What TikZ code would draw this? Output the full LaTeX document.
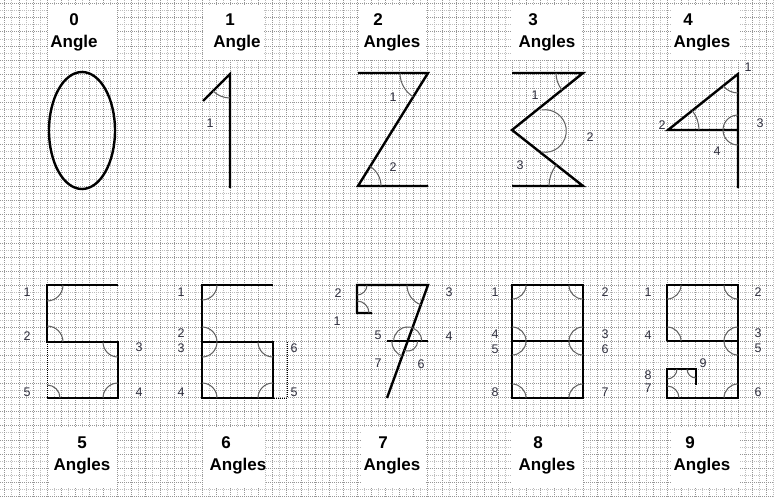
\documentclass[tikz,border=0pt]{standalone}
\usepackage{fontspec}
\setmainfont{Liberation Sans}
\usetikzlibrary{positioning}
\definecolor{gridmajor}{RGB}{150,150,150}
\definecolor{gridminor}{RGB}{190,190,190}
\definecolor{arcgray}{RGB}{95,95,95}
\definecolor{lblgray}{RGB}{45,45,60}
\tikzset{
  digitline/.style={line width=2.4pt, line join=miter},
  angarc/.style={arcgray, line width=1pt},
  construct/.style={line width=0.8pt, dash pattern=on 1pt off 1pt},
  lbl/.style={text=lblgray, font=\fontsize{12.5}{13}\selectfont, inner sep=0pt},
  titletext/.style={font=\bfseries\fontsize{17}{18}\selectfont, inner sep=0pt}
}
% angle mark: vertex, start angle, end angle, radius
\newcommand{\angarc}[4]{\draw[angarc] (#1) ++(#2:#4) arc[start angle=#2, end angle=#3, radius=#4];}

\begin{document}
\begin{tikzpicture}[x=1pt, y=1pt]
  \useasboundingbox (0,0) rectangle (774,-498);
  \fill[white] (0,0) rectangle (774,-498);
  % graph paper
  \foreach \i in {0,...,109}
    \draw[gridminor, line width=0.6pt, dash pattern=on 1pt off 1pt] ({4.7+\i*7.05},0) -- ({4.7+\i*7.05},-498);
  \foreach \j in {0,...,70}
    \draw[gridminor, line width=0.6pt, dash pattern=on 1pt off 1pt] (0,{-3.65-\j*7.035}) -- (774,{-3.65-\j*7.035});
  \foreach \i in {0,...,54}
    \draw[gridmajor, line width=0.6pt, dash pattern=on 1pt off 1pt] ({4.7+\i*14.1},0) -- ({4.7+\i*14.1},-498);
  \foreach \j in {0,...,35}
    \draw[gridmajor, line width=0.6pt, dash pattern=on 1pt off 1pt] (0,{-3.65-\j*14.07}) -- (774,{-3.65-\j*14.07});

  % title boxes
  \foreach \xa/\xb in {48/117, 203/264, 360/425, 511/582, 672/740}
    \fill[white] (\xa,-5) rectangle (\xb,-59);
  \foreach \xa/\xb in {49/117, 203/265, 362/425, 511/583, 672/740}
    \fill[white] (\xa,-428) rectangle (\xb,-487);

  % titles, top row
  \node[titletext] (n0) at (74,-20) {0};
  \node[titletext] (w0) at (74,-43) {Angle};
  \node[titletext] (n1) at (230,-20) {1};
  \node[titletext] (w1) at (237,-43) {Angle};
  \node[titletext] (n2) at (378,-20) {2};
  \node[titletext] (w2) at (392,-43) {Angles};
  \node[titletext] (n3) at (533,-20) {3};
  \node[titletext] (w3) at (547,-43) {Angles};
  \node[titletext] (n4) at (688,-20) {4};
  \node[titletext] (w4) at (702,-43) {Angles};
  % titles, bottom row
  \node[titletext] (n5) at (82,-443) {5};
  \node[titletext] (w5) at (82,-466) {Angles};
  \node[titletext] (n6) at (226,-443) {6};
  \node[titletext] (w6) at (238,-466) {Angles};
  \node[titletext] (n7) at (383,-443) {7};
  \node[titletext] (w7) at (392,-466) {Angles};
  \node[titletext] (n8) at (538,-443) {8};
  \node[titletext] (w8) at (547,-466) {Angles};
  \node[titletext] (n9) at (690,-443) {9};
  \node[titletext] (w9) at (702,-466) {Angles};

  % digit 0
  \draw[digitline] (82,-130.5) ellipse [x radius=33pt, y radius=58.5pt];

  % digit 1
  \coordinate (d1t) at (230,-74);
  \coordinate (d1b) at (230,-188);
  \coordinate (d1s) at (203,-101);
  \draw[digitline] (d1s) -- (d1t) -- (d1b);
  \angarc{d1t}{225}{270}{24pt}
  \node[lbl] (l1-1) at (210,-123) {1};

  % digit 2
  \coordinate (d2a) at (358,-73);
  \coordinate (d2b) at (428,-73);
  \coordinate (d2c) at (358,-186);
  \coordinate (d2d) at (428,-186);
  \draw[digitline] (d2a) -- (d2b) -- (d2c) -- (d2d);
  \angarc{d2b}{180}{238.2}{28pt}
  \angarc{d2c}{0}{58.2}{23pt}
  \node[lbl] (l2-1) at (393,-97) {1};
  \node[lbl] (l2-2) at (393,-167) {2};

  % digit 3
  \coordinate (d3a) at (512,-73);
  \coordinate (d3b) at (583,-73);
  \coordinate (d3c) at (512,-130);
  \coordinate (d3d) at (583,-186);
  \coordinate (d3e) at (512,-186);
  \coordinate (d3o) at (545,-131);
  \draw[digitline] (d3a) -- (d3b) -- (d3c) -- (d3d) -- (d3e);
  \angarc{d3b}{180}{218.8}{27pt}
  \angarc{d3o}{99}{-99}{21.3pt}
  \angarc{d3d}{141.3}{180}{34pt}
  \node[lbl] (l3-1) at (535,-95) {1};
  \node[lbl] (l3-2) at (590,-137) {2};
  \node[lbl] (l3-3) at (520,-165) {3};

  % digit 4
  \coordinate (d4t) at (738,-74);
  \coordinate (d4b) at (738,-188);
  \coordinate (d4l) at (668,-130);
  \coordinate (d4m) at (738,-130);
  \draw[digitline] (d4b) -- (d4t) -- (d4l) -- (d4m);
  \angarc{d4t}{218.7}{270}{19pt}
  \angarc{d4l}{0}{38.7}{31pt}
  \angarc{d4m}{90}{270}{15pt}
  \node[lbl] (l4-1) at (748,-67) {1};
  \node[lbl] (l4-2) at (662,-125) {2};
  \node[lbl] (l4-3) at (760,-123) {3};
  \node[lbl] (l4-4) at (717,-151) {4};

  % digit 5
  \coordinate (d5a) at (47,-285);
  \coordinate (d5b) at (118,-285);
  \coordinate (d5c) at (47,-342);
  \coordinate (d5d) at (118,-342);
  \coordinate (d5e) at (118,-398);
  \coordinate (d5f) at (47,-398);
  \draw[construct] (d5c) -- (d5f);
  \draw[digitline] (d5b) -- (d5a) -- (d5c) -- (d5d) -- (d5e) -- (d5f);
  \angarc{d5a}{270}{360}{16pt}
  \angarc{d5c}{0}{90}{16pt}
  \angarc{d5d}{180}{270}{15pt}
  \angarc{d5e}{90}{180}{15pt}
  \angarc{d5f}{0}{90}{13pt}
  \foreach \n/\x/\y in {1/27/292, 2/27/336, 3/139/347, 4/139/392, 5/27/392}
    \node[lbl] (l5-\n) at (\x,-\y) {\n};

  % digit 6
  \coordinate (d6a) at (202,-285);
  \coordinate (d6b) at (273,-285);
  \coordinate (d6c) at (202,-342);
  \coordinate (d6d) at (273,-342);
  \coordinate (d6e) at (273,-398);
  \coordinate (d6f) at (202,-398);
  \coordinate (d6g) at (287,-342);
  \coordinate (d6h) at (287,-398);
  \draw[construct] (d6g) -- (d6h) -- (d6e);
  \draw[digitline] (d6b) -- (d6a) -- (d6f) -- (d6e) -- (d6d) -- (d6c);
  \angarc{d6a}{270}{360}{15pt}
  \angarc{d6c}{0}{90}{15pt}
  \angarc{d6c}{270}{360}{15pt}
  \angarc{d6f}{0}{90}{15pt}
  \angarc{d6e}{90}{180}{15pt}
  \angarc{d6d}{180}{270}{15pt}
  \foreach \n/\x/\y in {1/181/292, 2/181/333, 3/181/348, 4/181/392, 5/294/392, 6/294/348}
    \node[lbl] (l6-\n) at (\x,-\y) {\n};

  % digit 7
  \coordinate (d7a) at (357,-285);
  \coordinate (d7b) at (428,-285);
  \coordinate (d7c) at (357,-313);
  \coordinate (d7d) at (372,-313);
  \coordinate (d7e) at (387,-398);
  \coordinate (d7f) at (387,-341);
  \coordinate (d7g) at (428,-341);
  \coordinate (d7x) at (407.7,-341);
  \draw[digitline] (d7d) -- (d7c) -- (d7a) -- (d7b) -- (d7e);
  \draw[digitline] (d7f) -- (d7g);
  \angarc{d7a}{270}{360}{10pt}
  \angarc{d7c}{0}{90}{12pt}
  \angarc{d7b}{180}{250}{21pt}
  \angarc{d7x}{0}{180}{14pt}
  \angarc{d7x}{180}{250}{16pt}
  \angarc{d7x}{250}{360}{10pt}
  \foreach \n/\x/\y in {2/338/293, 1/337/321, 3/449/292, 4/449/336, 5/378/335, 6/421/364, 7/378/363}
    \node[lbl] (l7-\n) at (\x,-\y) {\n};

  % digit 8
  \coordinate (d8a) at (512,-285);
  \coordinate (d8b) at (583,-285);
  \coordinate (d8c) at (512,-341);
  \coordinate (d8d) at (583,-341);
  \coordinate (d8e) at (512,-398);
  \coordinate (d8f) at (583,-398);
  \draw[digitline] (d8a) -- (d8b) -- (d8f) -- (d8e) -- cycle;
  \draw[digitline] (d8c) -- (d8d);
  \angarc{d8a}{270}{360}{14pt}
  \angarc{d8b}{180}{270}{14pt}
  \angarc{d8d}{90}{180}{14pt}
  \angarc{d8c}{0}{90}{14pt}
  \angarc{d8c}{270}{360}{14pt}
  \angarc{d8d}{180}{270}{14pt}
  \angarc{d8f}{90}{180}{14pt}
  \angarc{d8e}{0}{90}{14pt}
  \foreach \n/\x/\y in {1/495/292, 4/495/334, 5/495/349, 8/495/392, 2/605/292, 3/605/334, 6/605/349, 7/605/392}
    \node[lbl] (l8-\n) at (\x,-\y) {\n};

  % digit 9
  \coordinate (d9a) at (667,-285);
  \coordinate (d9b) at (738,-285);
  \coordinate (d9c) at (667,-341);
  \coordinate (d9d) at (738,-341);
  \coordinate (d9e) at (738,-398);
  \coordinate (d9f) at (667,-398);
  \coordinate (d9g) at (667,-369);
  \coordinate (d9h) at (696,-369);
  \coordinate (d9i) at (696,-385);
  \draw[digitline] (d9c) -- (d9a) -- (d9b) -- (d9e) -- (d9f) -- (d9g) -- (d9h) -- (d9i);
  \draw[digitline] (d9c) -- (d9d);
  \angarc{d9a}{270}{360}{14pt}
  \angarc{d9b}{180}{270}{14pt}
  \angarc{d9d}{90}{180}{14pt}
  \angarc{d9c}{0}{90}{14pt}
  \angarc{d9d}{180}{270}{14pt}
  \angarc{d9e}{90}{180}{14pt}
  \angarc{d9f}{0}{90}{12pt}
  \angarc{d9g}{270}{360}{10pt}
  \angarc{d9h}{180}{270}{9pt}
  \foreach \n/\x/\y in {1/648/292, 4/648/335, 8/648/375, 7/648/388, 2/758/292, 3/758/333, 5/758/348, 6/758/392, 9/703/363}
    \node[lbl] (l9-\n) at (\x,-\y) {\n};
\end{tikzpicture}
\end{document}
